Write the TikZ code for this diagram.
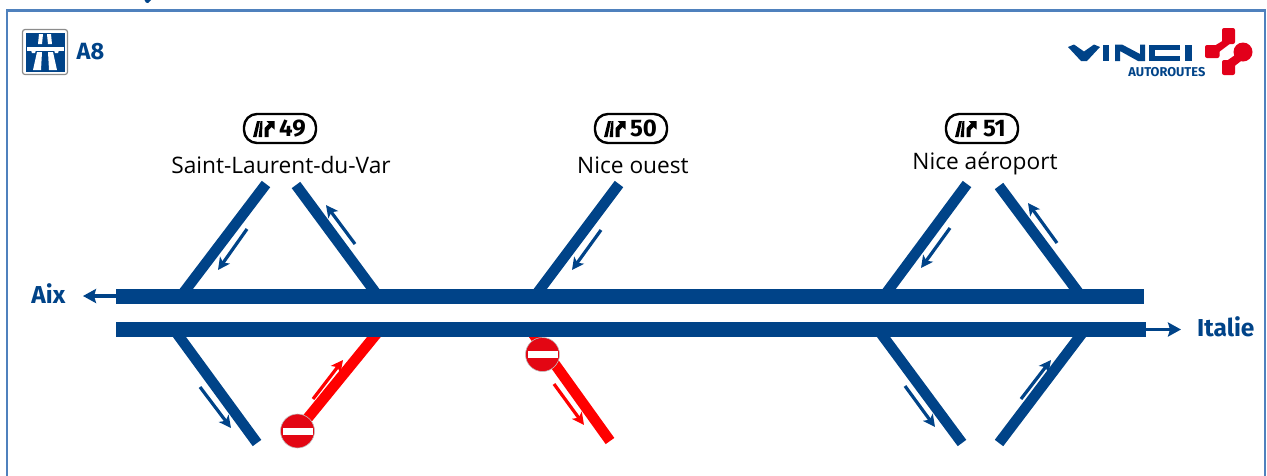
\documentclass[tikz,border=0pt]{standalone}
\usepackage{fontspec}
\setmainfont{Open Sans}
\newfontfamily\condfont{Fira Sans}
\usetikzlibrary{arrows.meta,calc}
\definecolor{roadblue}{HTML}{004388}
\definecolor{framecol}{HTML}{4F81BD}
\definecolor{signred}{HTML}{E30613}
\definecolor{logored}{HTML}{E2001A}
\tikzset{
  road/.style={line width=10.6pt,line cap=butt,color=roadblue},
  main/.style={line width=15pt,line cap=butt,color=roadblue},
  redroad/.style={road,color=red},
  flow/.style={line width=3.2pt,color=roadblue,-{Stealth[length=12pt,width=12pt,inset=3pt]}},
  redflow/.style={flow,color=red},
  endflow/.style={line width=3.4pt,color=roadblue,-{Stealth[length=13pt,width=14pt,inset=2pt]}},
  place/.style={font=\fontsize{22.7}{22.7}\selectfont,inner sep=0pt,color=black},
  dest/.style={font=\condfont\bfseries\fontsize{24.5}{24.5}\selectfont,inner sep=0pt,color=roadblue},
  pill/.style={draw=black,line width=2.4pt,rounded corners=13pt,minimum width=72pt,minimum height=29pt,inner sep=0pt,fill=white},
  pilltext/.style={font=\condfont\bfseries\fontsize{24}{24}\selectfont,inner sep=0pt,color=black},
  nodisc/.style={circle,fill=signred,draw=black!25,line width=.6pt,minimum size=34pt,inner sep=0pt},
}
\newcommand{\exiticon}[1]{%
  \begin{scope}[shift={(#1)}]
    \fill (-11,8) -- (-7.5,8) -- (-4,-8) -- (-7,-8) -- cycle;
    \fill (-5.5,8) -- (-2,8) -- (-1.5,-8) -- (-3.5,-8) -- cycle;
    \fill (0.5,8) -- (4.5,8) -- (4.5,1) -- (7.5,-2) -- (10.5,0.5) -- (10.5,-8) -- (2.5,-8) -- (5,-5.5) -- (0.5,-1) -- cycle;
  \end{scope}}
\newcommand{\nosign}[2]{%
  \node[nodisc] (#2) at (#1) {};
  \fill[white] ($(#2)+(-15,-3.5)$) rectangle ($(#2)+(15,3.5)$);}
\begin{document}
\begin{tikzpicture}[x=1pt,y=-1pt]
\useasboundingbox (0,0) rectangle (1267,475);
% cut-off mark at the top edge
\fill[roadblue] (144.5,0) -- (151,0) -- (148,3) -- (146,2.5) -- cycle;
% frame
\draw[framecol,line width=2.2pt] (7,490) -- (7,10.5) -- (1265,10.5) -- (1265,490);
% motorway pictogram
\fill[white,draw=black!45,line width=1.2pt,rounded corners=2.5pt] (22.5,29.5) rectangle (67.5,74.5);
\fill[roadblue] (26,32.5) rectangle (64.5,71.5);
\fill[white] (27,46.5) rectangle (63.5,50.5);
\fill[white] (31,50) -- (36,50) -- (35,53) -- (32,53) -- cycle;
\fill[white] (54,50) -- (59,50) -- (58,53) -- (55,53) -- cycle;
\fill[white] (39,34) -- (43,34) -- (42,44) -- (38,44) -- cycle;
\fill[white] (47,34) -- (51,34) -- (52,44) -- (48,44) -- cycle;
\fill[white] (37,52) -- (42,52) -- (41,70) -- (33,70) -- cycle;
\fill[white] (48,52) -- (53,52) -- (57,70) -- (49,70) -- cycle;
\node[dest,anchor=west,font=\condfont\bfseries\fontsize{23.5}{23.5}\selectfont] (aeight) at (76.5,52) {A8};
% VINCI logo
\node[inner sep=0pt,anchor=east,text=roadblue,font=\condfont\bfseries\fontsize{12.8}{12.8}\selectfont] (autoroutes) at (1205.5,72) {AUTOROUTES};
\fill[roadblue] (1068,47) -- (1074,44.5) -- (1084,51.5) -- (1094,44.5) -- (1100,47) -- (1087,61) -- (1081,61) -- cycle;
\fill[roadblue] (1103,44.5) rectangle (1108.5,61);
\fill[roadblue] (1115,44.5) -- (1122,44.5) -- (1140,54) -- (1140,44.5) -- (1145,44.5) -- (1145,61) -- (1138,61) -- (1120,51) -- (1120,61) -- (1115,61) -- cycle;
\fill[roadblue] (1149,44.5) rectangle (1180,49.5);
\fill[roadblue] (1149,44.5) rectangle (1155,61);
\fill[roadblue] (1149,56) rectangle (1180,61);
\fill[roadblue] (1185,44.5) rectangle (1191.5,61);
\fill[logored,rounded corners=2pt] (1222,28) rectangle (1235,44);
\fill[logored,rounded corners=2pt] (1205,45) rectangle (1219.5,58);
\fill[logored,rounded corners=2pt] (1222,60) rectangle (1235,75);
\fill[logored] (1215,45.5) -- (1224,40) -- (1231,43) -- (1219,52) -- cycle;
\fill[logored] (1225,62) -- (1238,53) -- (1245,58) -- (1232,68) -- cycle;
\fill[logored] (1243,52) circle (9.5);
% main carriageways
\coordinate (wa) at (116,296);
\coordinate (wb) at (1144,296);
\coordinate (ea) at (116,329.5);
\coordinate (eb) at (1146,329.5);
\coordinate (aixend) at (83,296);
\coordinate (itaend) at (1181,329.5);
\draw[endflow] (wa) -- (aixend);
\draw[endflow] (eb) -- (itaend);
\node[dest,anchor=east] (aix) at (65.5,294) {Aix};
\node[dest,anchor=west] (italie) at (1197,327) {Italie};
% upper ramps
\coordinate (a1) at (266,184); \coordinate (a2) at (181,296);
\coordinate (b1) at (296,185); \coordinate (b2) at (378,296);
\coordinate (c1) at (619,184); \coordinate (c2) at (535,296);
\coordinate (d1) at (967,184); \coordinate (d2) at (884,296);
\coordinate (e1) at (999,186); \coordinate (e2) at (1081,296);
\foreach \p/\q in {a1/a2,b1/b2,c1/c2,d1/d2,e1/e2} \draw[road] (\p) -- (\q);
\draw[main] (wa) -- (wb);
% lower ramps
\coordinate (f1) at (174,329.5); \coordinate (f2) at (257,443);
\coordinate (g1) at (380,329.5); \coordinate (g2) at (298,430);
\coordinate (h1) at (530,329.5); \coordinate (h2) at (610,441);
\coordinate (i1) at (878,329.5); \coordinate (i2) at (962,443);
\coordinate (j1) at (1085,329.5); \coordinate (j2) at (999,443);
\draw[road] (f1) -- (f2);
\draw[road] (i1) -- (i2);
\draw[road] (j1) -- (j2);
\draw[redroad] (g1) -- (g2);
\draw[redroad] (h1) -- (h2);
\draw[main] (ea) -- (eb);
% flow arrows
\coordinate (fa1) at (247,229); \coordinate (fa2) at (218,270);
\coordinate (fb1) at (355,244); \coordinate (fb2) at (326,205);
\coordinate (fc1) at (601,230); \coordinate (fc2) at (572,270);
\coordinate (fd1) at (950,228); \coordinate (fd2) at (921,268);
\coordinate (fe1) at (1057,243); \coordinate (fe2) at (1028,203);
\coordinate (ff1) at (200,387); \coordinate (ff2) at (231,428);
\coordinate (fg1) at (313,399); \coordinate (fg2) at (343,360);
\coordinate (fh1) at (554,384); \coordinate (fh2) at (584,425);
\coordinate (fi1) at (905,386); \coordinate (fi2) at (935,427);
\coordinate (fj1) at (1021,399); \coordinate (fj2) at (1051,360);
\foreach \p/\q in {fa1/fa2,fb1/fb2,fc1/fc2,fd1/fd2,fe1/fe2,ff1/ff2,fi1/fi2,fj1/fj2} \draw[flow] (\p) -- (\q);
\foreach \p/\q in {fg1/fg2,fh1/fh2} \draw[redflow] (\p) -- (\q);
% no-entry signs
\nosign{297.5,431}{noa}
\nosign{542.5,354.5}{nob}
% exit pills
\foreach \x/\n/\nm in {280/49/pa,631/50/pb,982/51/pc}{
  \node[pill] (\nm) at (\x,128.5) {};
  \exiticon{\x-16,129}
  \node[pilltext] (\nm n) at (\x+12.5,128.5) {\n};
}
\node[place] (la) at (281,165) {Saint-Laurent-du-Var};
\node[place] (lb) at (633,165) {Nice ouest};
\node[place] (lc) at (985,164) {Nice aéroport};
\end{tikzpicture}
\end{document}
